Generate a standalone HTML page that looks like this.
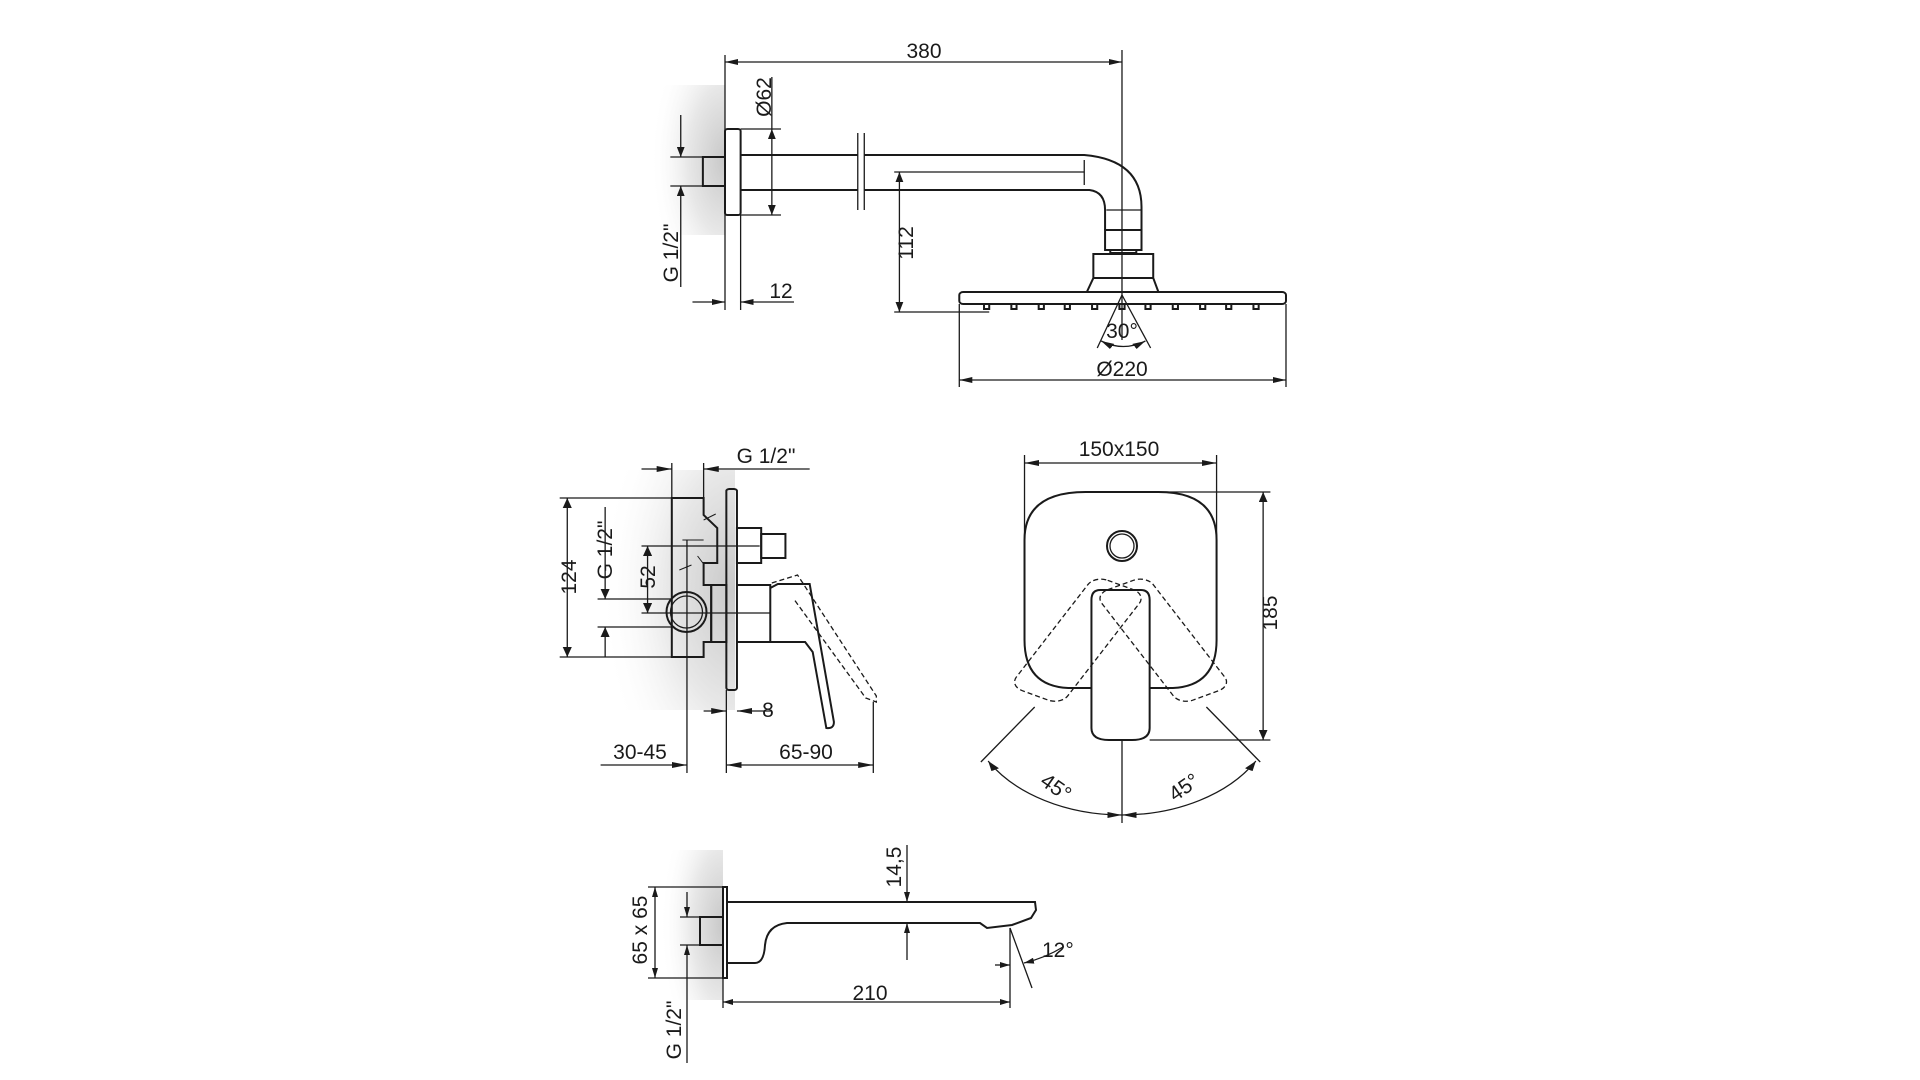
<!DOCTYPE html>
<html><head><meta charset="utf-8"><style>
html,body{margin:0;padding:0;background:#fff}
svg{display:block}
text{font-family:"Liberation Sans",sans-serif;font-size:21px;fill:#1a1a1a}
svg *{vector-effect:non-scaling-stroke}
</style></head><body>
<svg width="1920" height="1080" viewBox="0 0 1920 1080" xmlns="http://www.w3.org/2000/svg">
<defs>
<marker id="a" viewBox="0 0 10 6" refX="10" refY="3" markerWidth="10" markerHeight="6" markerUnits="userSpaceOnUse" orient="auto-start-reverse"><path d="M0,0L10,3L0,6z" fill="#1a1a1a"/></marker>
<radialGradient id="sh" cx="1" cy="0.5" r="1"><stop offset="0" stop-color="#c8c8c8"/><stop offset="0.5" stop-color="#e8e8e8"/><stop offset="1" stop-color="#fff" stop-opacity="0"/></radialGradient>
</defs>
<g>
<rect x="650" y="85" width="75" height="150" fill="url(#sh)"/>
<rect x="600" y="470" width="135" height="240" fill="url(#sh)"/>
<rect x="660" y="850" width="63" height="150" fill="url(#sh)"/>
</g>
<!-- TOP -->
<g fill="none" stroke="#1a1a1a" stroke-width="1.3" transform="translate(725 0) scale(1.3016 1) translate(-707 0)">
<line x1="707" y1="55" x2="707" y2="310"/><line x1="1012" y1="50" x2="1012" y2="340"/>
<line x1="707" y1="62" x2="1012" y2="62" marker-start="url(#a)" marker-end="url(#a)"/>
<rect x="707" y="129" width="12" height="86" rx="2" stroke-width="2"/>
<rect x="690" y="157" width="17" height="29" stroke-width="2"/>
<line x1="719" y1="129" x2="750" y2="129"/><line x1="719" y1="215" x2="750" y2="215"/>
<line x1="743" y1="77" x2="743" y2="129"/>
<line x1="743" y1="129" x2="743" y2="215" marker-start="url(#a)" marker-end="url(#a)"/>
<path d="M719 155H809M814 155H983Q1027 160 1027 207V230M719 190H809M814 190H987Q999 192 999 210V230" stroke-width="2"/>
<line x1="809" y1="133" x2="809" y2="210"/><line x1="814" y1="133" x2="814" y2="210"/>
<line x1="983" y1="160" x2="983" y2="185"/><line x1="837" y1="172" x2="983" y2="172"/>
<line x1="1000" y1="210" x2="1027" y2="210"/>
<line x1="841" y1="172" x2="841" y2="312" marker-start="url(#a)" marker-end="url(#a)"/>
<line x1="837" y1="312" x2="910" y2="312"/>
<rect x="999" y="230" width="28" height="20" stroke-width="2"/>
<rect x="1003" y="250" width="20" height="3" stroke-width="2"/>
<path d="M990 254H1036V278L1040 292H985L990 278ZM990 278H1036" stroke-width="2"/>
<rect x="887" y="292" width="251" height="12" rx="3" stroke-width="2"/>
<path stroke-width="2" d="M906 304v5h4v-5M927 304v5h4v-5M948 304v5h4v-5M968 304v5h4v-5M989 304v5h4v-5M1010 304v5h4v-5M1030 304v5h4v-5M1051 304v5h4v-5M1072 304v5h4v-5M1092 304v5h4v-5M1113 304v5h4v-5"/>
<line x1="1012" y1="295" x2="993" y2="348"/><line x1="1012" y1="295" x2="1034" y2="348"/>
<path d="M996 341Q1013 352 1030 341" marker-start="url(#a)" marker-end="url(#a)"/>
<line x1="887" y1="304" x2="887" y2="387"/><line x1="1138" y1="304" x2="1138" y2="387"/>
<line x1="887" y1="380" x2="1138" y2="380" marker-start="url(#a)" marker-end="url(#a)"/>
<line x1="673" y1="115" x2="673" y2="157" marker-end="url(#a)"/>
<line x1="673" y1="287" x2="673" y2="186" marker-end="url(#a)"/>
<line x1="665" y1="157" x2="690" y2="157"/><line x1="665" y1="186" x2="690" y2="186"/>
<line x1="719" y1="215" x2="719" y2="310"/>
<line x1="682" y1="302" x2="707" y2="302" marker-end="url(#a)"/>
<line x1="760" y1="302" x2="719" y2="302" marker-end="url(#a)"/>
</g>
<!-- MIDDLE LEFT -->
<g fill="none" stroke="#1a1a1a" stroke-width="1.3" transform="translate(540 0) scale(1.515 1) translate(-540 0)">
<line x1="627" y1="463" x2="627" y2="498"/><line x1="648" y1="463" x2="648" y2="498"/>
<line x1="607" y1="469" x2="627" y2="469" marker-end="url(#a)"/>
<line x1="718" y1="469" x2="648" y2="469" marker-end="url(#a)"/>
<path d="M627 498H648V515L657 528V563H648V585H653V642H648V657H627Z" stroke-width="2"/>
<path d="M648 520l8 -6M634 540h14M644 556l4 8M632 570l8 -5" stroke-width="1"/>
<rect x="663" y="489" width="7" height="201" rx="2" stroke-width="2"/>
<rect x="670" y="528" width="16" height="35" stroke-width="2"/>
<rect x="686" y="534" width="16" height="24" stroke-width="2"/>
<rect x="653" y="585" width="10" height="57" stroke-width="2"/>
<path d="M670 585H692V642H670" stroke-width="2"/>
<path d="M692 588L697 584H718L734 722Q734 729 729 728L720 652L715 642H692" stroke-width="2"/>
<path d="M693 583L710 575L762 696V702L755 698L708 600" stroke-dasharray="5 3"/>
<line x1="553" y1="498" x2="627" y2="498"/><line x1="553" y1="657" x2="627" y2="657"/>
<line x1="558" y1="498" x2="558" y2="657" marker-start="url(#a)" marker-end="url(#a)"/>
<line x1="583" y1="507" x2="583" y2="599" marker-end="url(#a)"/>
<line x1="583" y1="657" x2="583" y2="627" marker-end="url(#a)"/>
<line x1="578" y1="599" x2="627" y2="599"/><line x1="578" y1="627" x2="627" y2="627"/>
<line x1="607" y1="546" x2="685" y2="546"/><line x1="607" y1="613" x2="692" y2="613"/>
<line x1="611" y1="546" x2="611" y2="613" marker-start="url(#a)" marker-end="url(#a)"/>
<line x1="637" y1="540" x2="637" y2="773"/>
<line x1="663" y1="690" x2="663" y2="773"/>
<line x1="760" y1="702" x2="760" y2="773"/>
<line x1="648" y1="711" x2="663" y2="711" marker-end="url(#a)"/>
<line x1="693" y1="711" x2="670" y2="711" marker-end="url(#a)"/>
<line x1="580" y1="765" x2="637" y2="765" marker-end="url(#a)"/>
<line x1="663" y1="765" x2="760" y2="765" marker-start="url(#a)" marker-end="url(#a)"/>
</g>
<!-- MIDDLE RIGHT -->
<g fill="none" stroke="#1a1a1a" stroke-width="1.3" transform="translate(1122 0) scale(1.455 1) translate(-930 0)">
<line x1="863" y1="455" x2="863" y2="560"/><line x1="995" y1="455" x2="995" y2="560"/>
<line x1="863" y1="463" x2="995" y2="463" marker-start="url(#a)" marker-end="url(#a)"/>
<path d="M909 688H893Q863 686 863 640V540Q863 492 905 492H955Q995 492 995 540V640Q995 686 965 688H949" stroke-width="2"/>
<path d="M915 590H943Q949 590 949 600V728Q949 740 937 740H921Q909 740 909 728V600Q909 590 915 590Z" stroke-width="2"/>
<g stroke-dasharray="5 3">
<rect x="909" y="585" width="40" height="125" rx="10" transform="rotate(28 929 585)"/>
<rect x="909" y="585" width="40" height="125" rx="10" transform="rotate(-28 929 585)"/>
</g>
<line x1="930" y1="492" x2="1032" y2="492"/><line x1="949" y1="740" x2="1032" y2="740"/>
<line x1="1027" y1="492" x2="1027" y2="740" marker-start="url(#a)" marker-end="url(#a)"/>
<line x1="930" y1="740" x2="930" y2="823"/>
<line x1="870" y1="707" x2="833" y2="762"/><line x1="988" y1="707" x2="1025" y2="762"/>
<path d="M838 761A106 106 0 0 0 930 815" marker-start="url(#a)" marker-end="url(#a)"/>
<path d="M930 815A106 106 0 0 0 1022 761" marker-start="url(#a)" marker-end="url(#a)"/>
</g>
<g fill="none" stroke="#1a1a1a">
<circle cx="686.5" cy="612" r="20" stroke-width="2"/><circle cx="686.5" cy="612" r="16" stroke-width="1.3"/>
<circle cx="1122" cy="546" r="15" stroke-width="2"/><circle cx="1122" cy="546" r="12" stroke-width="1.3"/>
</g>
<!-- BOTTOM -->
<g fill="none" stroke="#1a1a1a" stroke-width="1.3">
<rect x="723" y="887" width="4" height="91" stroke-width="2"/>
<path d="M727 902H1035L1036 910L1031 918L1012 925L987 928L980 923H787Q767 925 765 945Q764 963 755 963H727" stroke-width="2"/>
<rect x="700" y="917" width="23" height="28" stroke-width="2"/>
<line x1="648" y1="887" x2="723" y2="887"/><line x1="648" y1="978" x2="723" y2="978"/>
<line x1="655" y1="887" x2="655" y2="978" marker-start="url(#a)" marker-end="url(#a)"/>
<line x1="687" y1="892" x2="687" y2="917" marker-end="url(#a)"/>
<line x1="687" y1="1063" x2="687" y2="945" marker-end="url(#a)"/>
<line x1="680" y1="917" x2="700" y2="917"/><line x1="680" y1="945" x2="700" y2="945"/>
<line x1="907" y1="845" x2="907" y2="902" marker-end="url(#a)"/>
<line x1="907" y1="960" x2="907" y2="923" marker-end="url(#a)"/>
<line x1="723" y1="978" x2="723" y2="1008"/><line x1="1010" y1="928" x2="1010" y2="1008"/>
<line x1="723" y1="1002" x2="1010" y2="1002" marker-start="url(#a)" marker-end="url(#a)"/>
<line x1="1010" y1="928" x2="1032" y2="988"/>
<line x1="995" y1="965" x2="1010" y2="965" marker-end="url(#a)"/>
<path d="M1063 947Q1045 958 1024 963" marker-end="url(#a)"/>
</g>
<g>
<text x="924" y="58" text-anchor="middle">380</text>
<text transform="translate(771 97) rotate(-90)" text-anchor="middle">Ø62</text>
<text transform="translate(678 253) rotate(-90)" text-anchor="middle">G 1/2"</text>
<text x="781" y="298" text-anchor="middle">12</text>
<text transform="translate(913 243) rotate(-90)" text-anchor="middle">112</text>
<text x="1122" y="338" text-anchor="middle">30°</text>
<text x="1122" y="376" text-anchor="middle">Ø220</text>
<text x="766" y="463" text-anchor="middle">G 1/2"</text>
<text transform="translate(576 577) rotate(-90)" text-anchor="middle">124</text>
<text transform="translate(612 550) rotate(-90)" text-anchor="middle">G 1/2"</text>
<text transform="translate(655 577) rotate(-90)" text-anchor="middle">52</text>
<text x="768" y="717" text-anchor="middle">8</text>
<text x="640" y="759" text-anchor="middle">30-45</text>
<text x="806" y="759" text-anchor="middle">65-90</text>
<text x="1119" y="456" text-anchor="middle">150x150</text>
<text transform="translate(1277 613) rotate(-90)" text-anchor="middle">185</text>
<text transform="translate(1052 793) rotate(35)" text-anchor="middle">45°</text>
<text transform="translate(1188 793) rotate(-35)" text-anchor="middle">45°</text>
<text transform="translate(647 930) rotate(-90)" text-anchor="middle">65 x 65</text>
<text transform="translate(681 1030) rotate(-90)" text-anchor="middle">G 1/2"</text>
<text transform="translate(901 867) rotate(-90)" text-anchor="middle">14,5</text>
<text x="870" y="1000" text-anchor="middle">210</text>
<text x="1042" y="957">12°</text>
</g>
</svg>
</body></html>
